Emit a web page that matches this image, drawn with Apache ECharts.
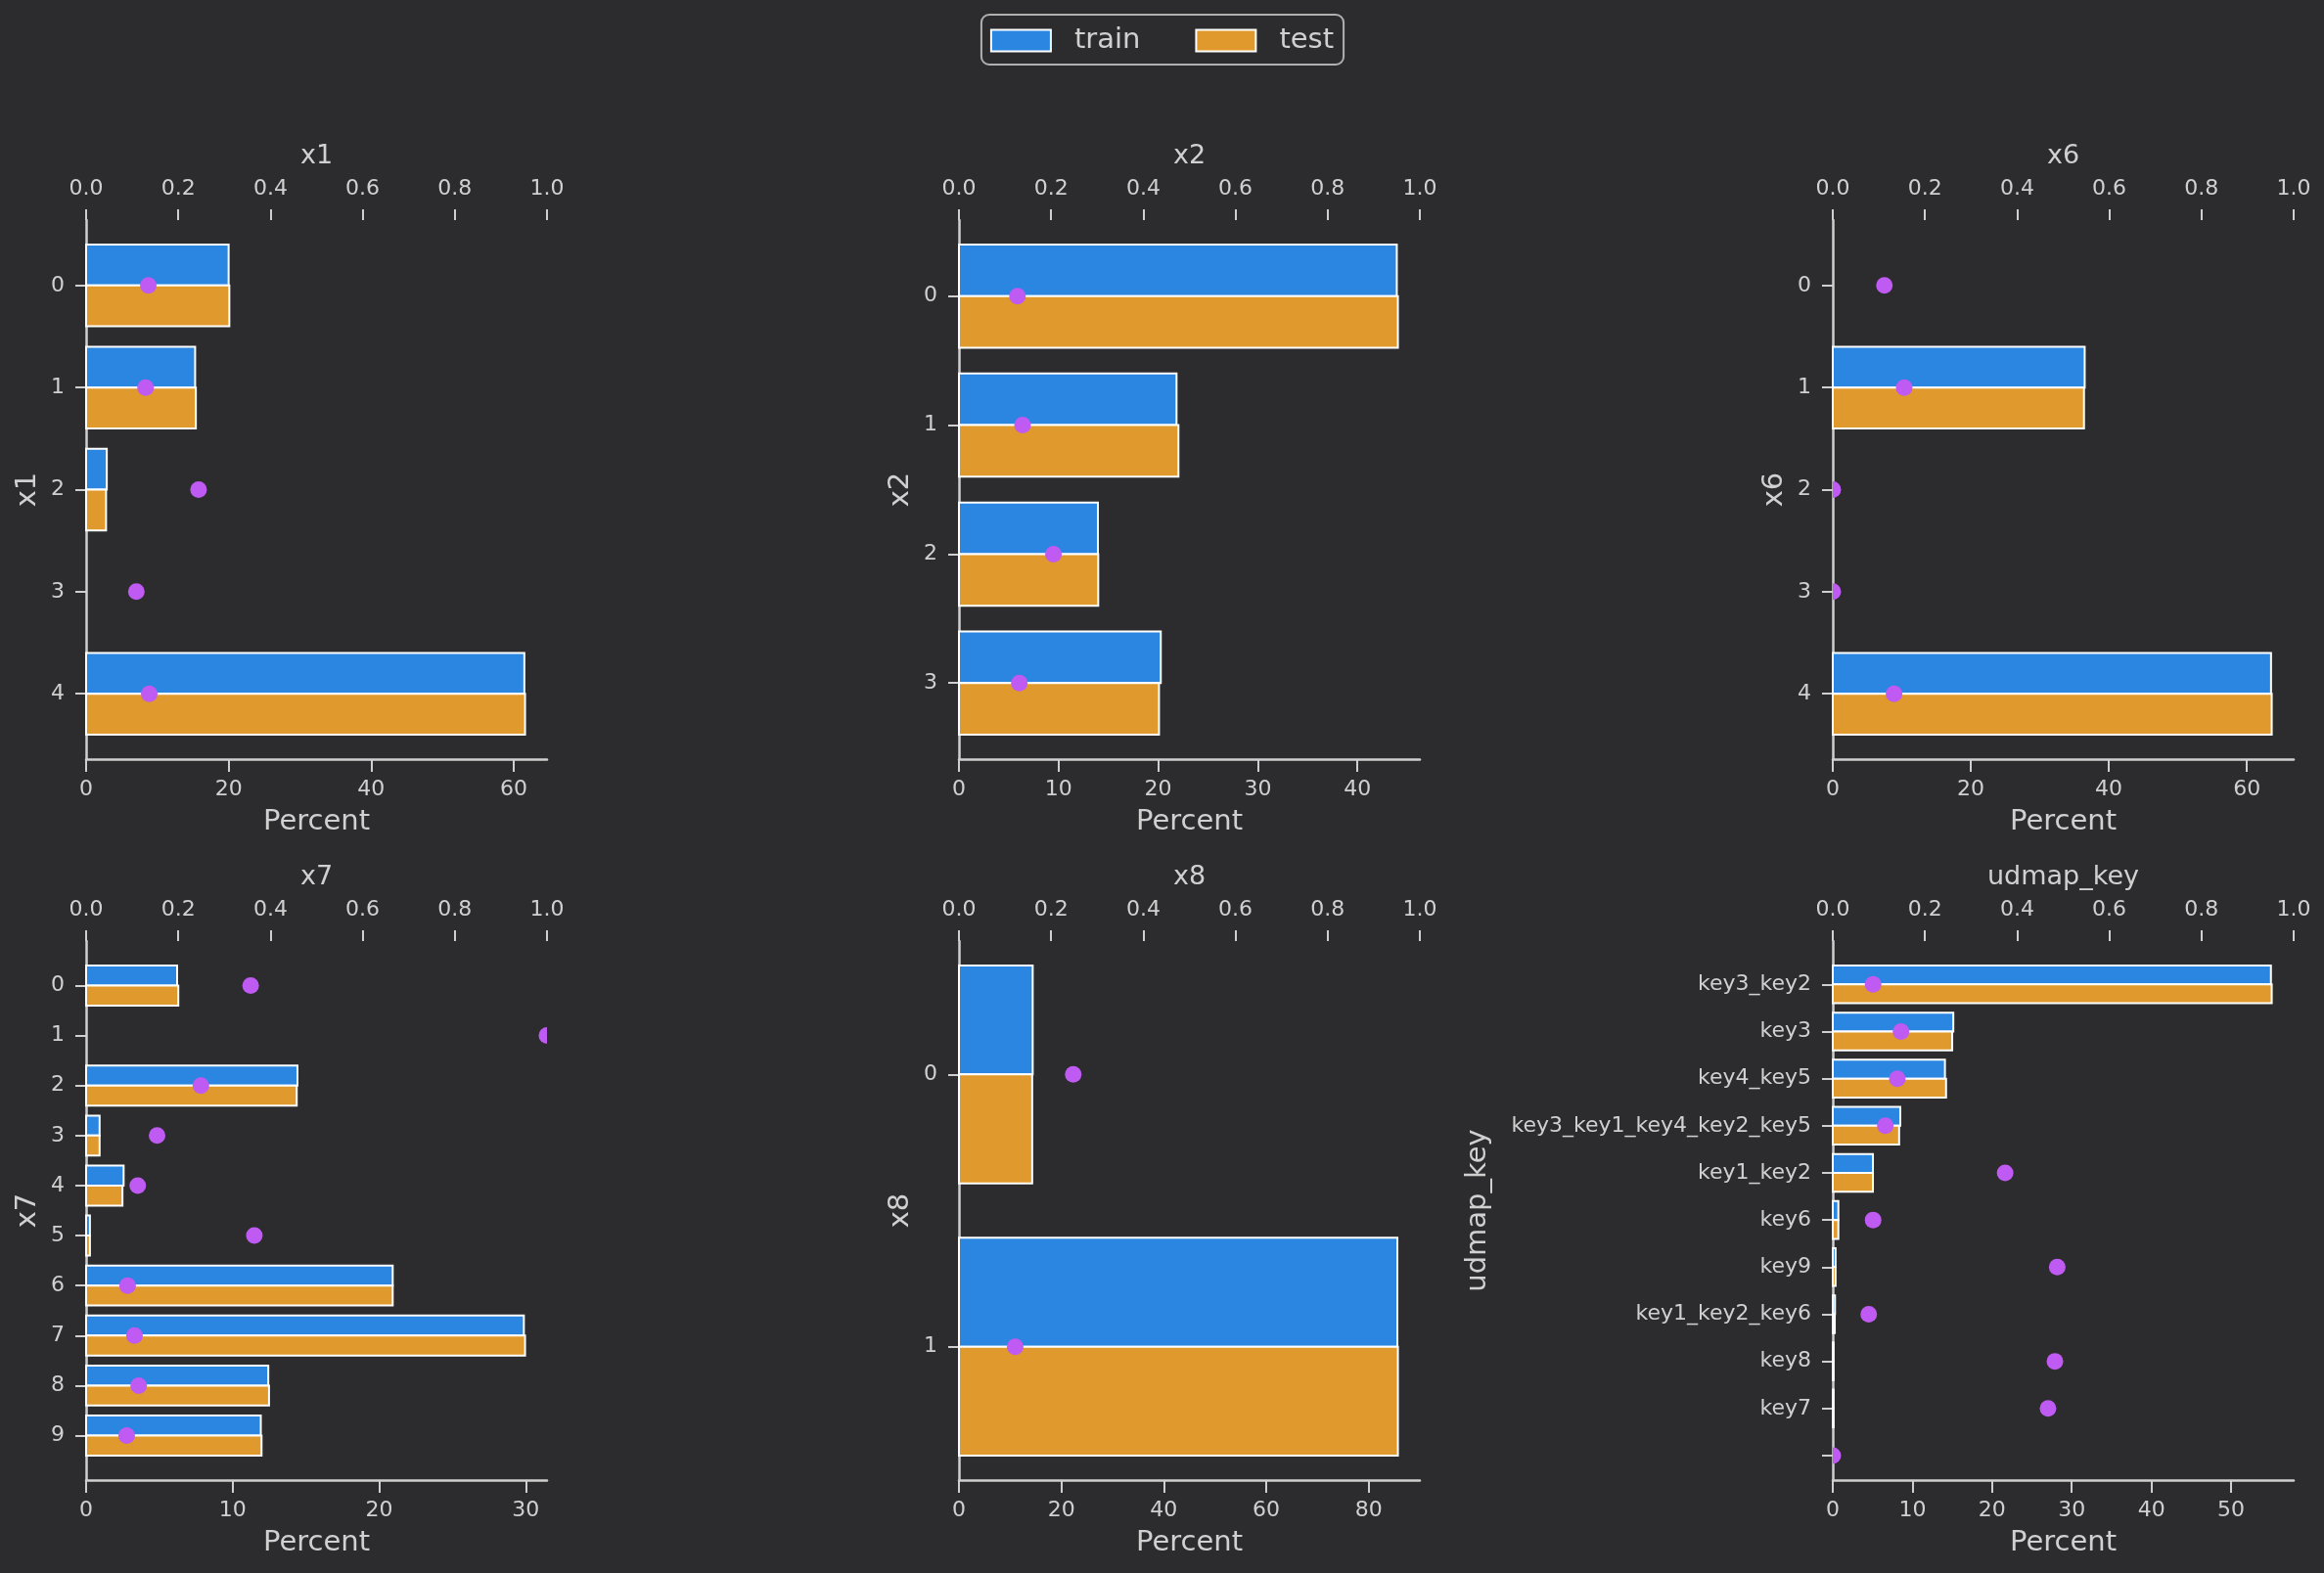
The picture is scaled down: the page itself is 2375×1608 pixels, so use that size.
<!DOCTYPE html>
<html>
<head>
<meta charset="utf-8">
<script src="https://cdn.jsdelivr.net/npm/echarts@6/dist/echarts.min.js"></script>
<style>
html,body{margin:0;padding:0;background:#2c2c2e;}
#chart{width:2375px;height:1608px;}
</style>
</head>
<body>
<div id="chart"></div>
<script>
// ---------------- data ----------------
const x1_cats = ['0', '1', '2', '3', '4'];
const x1_train = [20.0, 15.3, 2.9, 0, 61.5];
const x1_test = [20.1, 15.4, 2.8, 0, 61.6];
const x1_ratio = [0.135, 0.129, 0.244, 0.109, 0.137];
const x1_ticks = [0, 20, 40, 60];

const x2_cats = ['0', '1', '2', '3'];
const x2_train = [43.95, 21.84, 13.95, 20.26];
const x2_test = [44.06, 22.03, 13.98, 20.08];
const x2_ratio = [0.127, 0.138, 0.205, 0.131];
const x2_ticks = [0, 10, 20, 30, 40];

const x6_cats = ['0', '1', '2', '3', '4'];
const x6_train = [0, 36.5, 0, 0, 63.5];
const x6_test = [0, 36.4, 0, 0, 63.6];
const x6_ratio = [0.112, 0.155, 0, 0, 0.133];
const x6_ticks = [0, 20, 40, 60];

const x7_cats = ['0', '1', '2', '3', '4', '5', '6', '7', '8', '9'];
const x7_train = [6.21, 0, 14.42, 0.92, 2.56, 0.26, 20.92, 29.87, 12.43, 11.92];
const x7_test = [6.29, 0, 14.37, 0.92, 2.48, 0.26, 20.92, 29.95, 12.48, 11.97];
const x7_ratio = [0.357, 1.0, 0.249, 0.154, 0.112, 0.365, 0.090, 0.105, 0.114, 0.088];
const x7_ticks = [0, 10, 20, 30];

const x8_cats = ['0', '1'];
const x8_train = [14.4, 85.6];
const x8_test = [14.3, 85.7];
const x8_ratio = [0.248, 0.122];
const x8_ticks = [0, 20, 40, 60, 80];

const ud_cats = ['key3_key2', 'key3', 'key4_key5', 'key3_key1_key4_key2_key5', 'key1_key2',
                 'key6', 'key9', 'key1_key2_key6', 'key8', 'key7', ''];
const ud_train = [55.0, 15.13, 14.08, 8.47, 5.04, 0.7, 0.35, 0.28, 0.1, 0.1];
const ud_test = [55.1, 14.99, 14.22, 8.33, 5.04, 0.7, 0.35, 0.25, 0.1, 0.1];
const ud_ratio = [0.0875, 0.148, 0.140, 0.114, 0.374, 0.0875, 0.487, 0.078, 0.482, 0.467, 0.0];
const ud_ticks = [0, 10, 20, 30, 40, 50];

const ratio_ticks = [0, 0.2, 0.4, 0.6, 0.8, 1.0];
const seriesNames = ['train', 'test'];

// ---------------- layout / style ----------------
const panels = [
  {name: 'x1', cats: x1_cats, train: x1_train, test: x1_test, ratio: x1_ratio, ticks: x1_ticks, left: 88, top: 225, gap: 45},
  {name: 'x2', cats: x2_cats, train: x2_train, test: x2_test, ratio: x2_ratio, ticks: x2_ticks, left: 980, top: 225, gap: 45},
  {name: 'x6', cats: x6_cats, train: x6_train, test: x6_test, ratio: x6_ratio, ticks: x6_ticks, left: 1873, top: 225, gap: 45},
  {name: 'x7', cats: x7_cats, train: x7_train, test: x7_test, ratio: x7_ratio, ticks: x7_ticks, left: 88, top: 962, gap: 45},
  {name: 'x8', cats: x8_cats, train: x8_train, test: x8_test, ratio: x8_ratio, ticks: x8_ticks, left: 980, top: 962, gap: 45},
  {name: 'udmap_key', cats: ud_cats, train: ud_train, test: ud_test, ratio: ud_ratio, ticks: ud_ticks, left: 1873, top: 962, gap: 348}
];
const W = 471, H = 551;
const BLUE = '#2a86e0', ORANGE = '#e0992c', PURPLE = '#bf5af2';
const TXT = '#d0d0d0', AX = '#cfcfcf';
const FONT = 'DejaVu Sans';
const HALF = 0.4;

function barRender(color, a, b) {
  return function (params, api) {
    const v = api.value(0), c = api.value(1);
    if (!v) return null;
    const p0 = api.coord([0, c + a]);
    const p1 = api.coord([v, c + b]);
    return {
      type: 'rect',
      shape: {x: p0[0], y: Math.min(p0[1], p1[1]), width: p1[0] - p0[0], height: Math.abs(p1[1] - p0[1])},
      style: {fill: color, stroke: '#ffffff', lineWidth: 2}
    };
  };
}
function dotRender(params, api) {
  const p = api.coord([api.value(0), api.value(1)]);
  return {type: 'circle', shape: {cx: p[0], cy: p[1], r: 8.5}, style: {fill: PURPLE}};
}

const grid = [], xAxis = [], yAxis = [], series = [];
panels.forEach((p, i) => {
  grid.push({left: p.left, top: p.top, width: W, height: H});
  const vmax = Math.max(...p.train, ...p.test) * 1.05;
  const lo = -HALF;
  const hi = Math.max(p.train.length - 1 + HALF, p.ratio.length - 1);
  const pad = 0.05 * (hi - lo);
  const catIdx = p.cats.map((c, k) => k);
  xAxis.push({
    type: 'value', gridIndex: i, position: 'bottom', min: 0, max: vmax,
    axisLine: {show: true, onZero: false, lineStyle: {color: AX, width: 2.5}},
    axisTick: {show: true, customValues: p.ticks, length: 13, lineStyle: {color: AX, width: 2}},
    axisLabel: {customValues: p.ticks, color: TXT, fontSize: 22, fontFamily: FONT, margin: 20},
    splitLine: {show: false},
    name: 'Percent', nameLocation: 'middle', nameGap: 50,
    nameTextStyle: {color: TXT, fontSize: 29, fontFamily: FONT}
  });
  xAxis.push({
    type: 'value', gridIndex: i, position: 'top', min: 0, max: 1,
    axisLine: {show: false, onZero: false},
    axisTick: {show: true, customValues: ratio_ticks, length: 11, lineStyle: {color: AX, width: 2}},
    axisLabel: {customValues: ratio_ticks, color: TXT, fontSize: 22, fontFamily: FONT, margin: 21,
                formatter: v => v.toFixed(1)},
    splitLine: {show: false},
    name: p.name, nameLocation: 'middle', nameGap: 52,
    nameTextStyle: {color: TXT, fontSize: 27, fontFamily: FONT}
  });
  yAxis.push({
    type: 'value', gridIndex: i, inverse: true, min: lo - pad, max: hi + pad,
    axisLine: {show: true, onZero: false, lineStyle: {color: AX, width: 2.5}},
    axisTick: {show: true, customValues: catIdx, length: 11, lineStyle: {color: AX, width: 2}},
    axisLabel: {customValues: catIdx, color: TXT, fontSize: 22, fontFamily: FONT, margin: 22,
                formatter: v => p.cats[Math.round(v)]},
    splitLine: {show: false},
    name: p.name, nameLocation: 'middle', nameGap: p.gap,
    nameTextStyle: {color: TXT, fontSize: 29, fontFamily: FONT}
  });
  series.push({
    type: 'custom', name: seriesNames[0], xAxisIndex: 2 * i, yAxisIndex: i,
    itemStyle: {color: BLUE}, encode: {x: 0, y: 1},
    data: p.train.map((v, k) => [v, k]), renderItem: barRender(BLUE, -HALF, 0), z: 2
  });
  series.push({
    type: 'custom', name: seriesNames[1], xAxisIndex: 2 * i, yAxisIndex: i,
    itemStyle: {color: ORANGE}, encode: {x: 0, y: 1},
    data: p.test.map((v, k) => [v, k]), renderItem: barRender(ORANGE, 0, HALF), z: 2
  });
  series.push({
    type: 'custom', name: 'ratio', xAxisIndex: 2 * i + 1, yAxisIndex: i, clip: true,
    itemStyle: {color: PURPLE}, encode: {x: 0, y: 1},
    data: p.ratio.map((v, k) => [v, k]), renderItem: dotRender, z: 5
  });
});

const chart = echarts.init(document.getElementById('chart'), null, {renderer: 'canvas'});
chart.setOption({
  backgroundColor: '#2c2c2e',
  animation: false,
  textStyle: {fontFamily: FONT},
  legend: {
    data: seriesNames, left: 'center', top: 15, icon: 'rect',
    itemWidth: 61, itemHeight: 22, itemGap: 56,
    padding: [12, 10, 10, 9],
    borderColor: '#b0b0b0', borderWidth: 2, borderRadius: 8, backgroundColor: '#2c2c2e',
    itemStyle: {borderColor: '#ffffff', borderWidth: 2},
    textStyle: {color: TXT, fontSize: 29, fontFamily: FONT, padding: [0, 0, 0, 19]}
  },
  grid, xAxis, yAxis, series
});
</script>
</body>
</html>
